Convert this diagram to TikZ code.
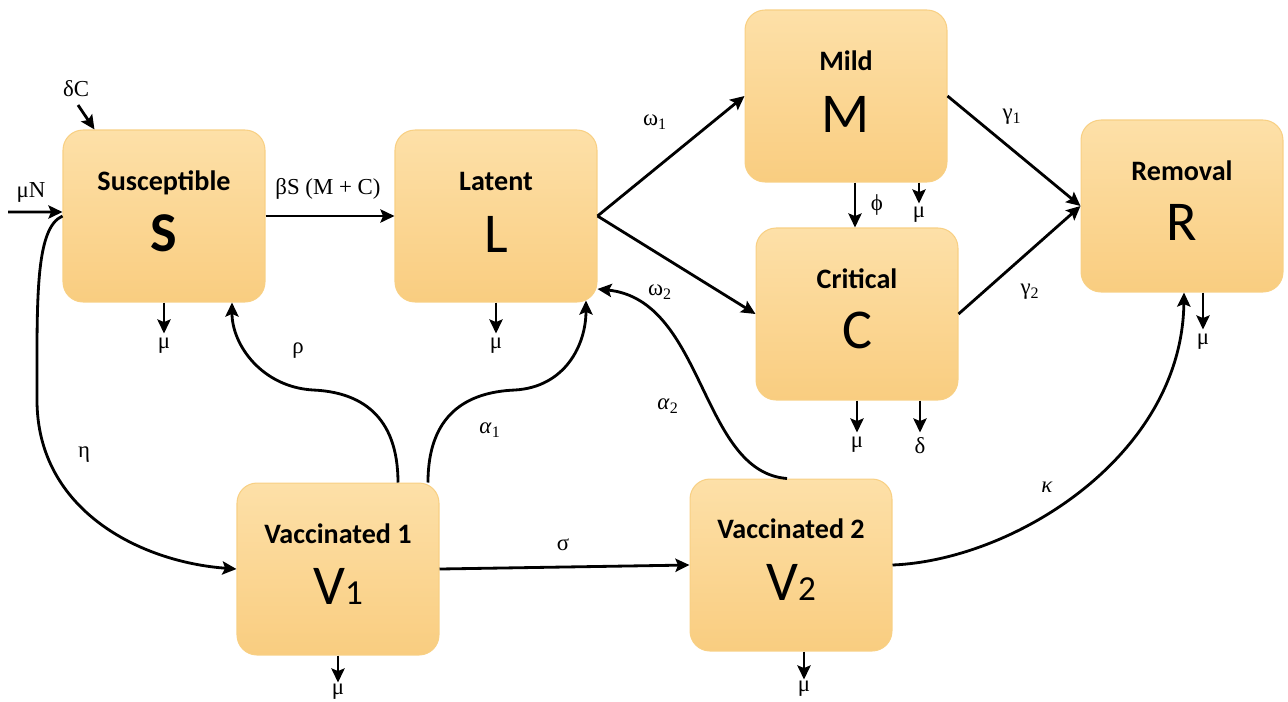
\documentclass[tikz,border=0pt]{standalone}
\usepackage{fontspec}
\setmainfont{Liberation Serif}
\newfontfamily\boxfont{Carlito}
\usetikzlibrary{arrows.meta,calc}
\definecolor{boxtop}{RGB}{253,224,168}
\definecolor{boxbot}{RGB}{249,205,128}
\definecolor{boxline}{RGB}{248,208,132}
\tikzset{
  comp/.style={rounded corners=0.4cm, top color=boxtop, bottom color=boxbot, draw=boxline, line width=0.6pt,
    minimum width=4.04cm, minimum height=3.44cm, inner sep=0pt},
  ttl/.style={anchor=base, font=\boxfont\bfseries\fontsize{16}{18}\selectfont},
  big/.style={anchor=base, font=\boxfont\fontsize{32}{36}\selectfont},
  arr/.style={-{Stealth[length=8pt,width=7.5pt,inset=1.5pt]}, line width=1.6pt},
  lab/.style={font=\fontsize{13}{15}\selectfont, inner sep=1pt},
}
\begin{document}
\begin{tikzpicture}[x=0.02cm,y=-0.02cm]
\useasboundingbox (0,0) rectangle (1288,701);
% compartments
\node[comp] (S) at (164,216) {};
\node[comp] (L) at (496,216) {};
\node[comp] (M) at (846,96) {};
\node[comp] (C) at (857,314) {};
\node[comp] (R) at (1182,206) {};
\node[comp] (V1) at (338,569) {};
\node[comp] (V2) at (791,565) {};
% texts
\node[ttl] (tS) at ($(S)+(0,-26)$) {Susceptible};
\node[big,font=\boxfont\bfseries\fontsize{32}{36}\selectfont] (bS) at ($(S)+(0,35)$) {S};
\node[ttl] (tL) at ($(L)+(0,-26)$) {Latent};
\node[big] (bL) at ($(L)+(0,36)$) {L};
\node[ttl] (tM) at ($(M)+(0,-26)$) {Mild};
\node[big] (bM) at ($(M)+(0,36)$) {M};
\node[ttl] (tC) at ($(C)+(0,-26)$) {Critical};
\node[big] (bC) at ($(C)+(0,34)$) {C};
\node[ttl] (tR) at ($(R)+(0,-26)$) {Removal};
\node[big] (bR) at ($(R)+(0,34)$) {R};
\node[ttl] (tV1) at ($(V1)+(0,-26)$) {Vaccinated 1};
\node[big] (bV1) at ($(V1)+(0,35)$) {V{\fontsize{20}{22}\selectfont 1}};
\node[ttl] (tV2) at ($(V2)+(0,-27)$) {Vaccinated 2};
\node[big] (bV2) at ($(V2)+(0,35)$) {V{\fontsize{20}{22}\selectfont 2}};

% inflow
\coordinate (inN) at (8,212);
\draw[arr] (inN) -- ([yshift=0.08cm]S.west);
\node[lab] (lmuN) at (31,192) {μN};
\coordinate (inC) at (78,105);
\draw[arr] (inC) -- ([xshift=0.64cm]S.north west);
\node[lab] (ldC) at (76,89) {δC};

% main flows
\draw[arr] (S.east) -- (L.west);
\node[lab] (lbeta) at (328,189) {βS (M + C)};
\draw[arr] (L.east) -- (M.west);
\node[lab] (lw1) at (655,122) {ω\textsubscript{1}};
\draw[arr] (L.east) -- (C.west);
\node[lab] (lw2) at (660,292) {ω\textsubscript{2}};
\draw[arr] ([xshift=0.18cm]M.south) -- ([xshift=0.18cm]M.south |- C.north);
\node[lab] (lphi) at (877,205) {ϕ};
\draw[arr] (M.east) -- (R.west);
\node[lab] (lg1) at (1012,117) {γ\textsubscript{1}};
\draw[arr] (C.east) -- (R.west);
\node[lab] (lg2) at (1030,292) {γ\textsubscript{2}};
\draw[arr] (V1.east) -- (V2.west);
\node[lab] (lsig) at (563,545) {σ};

% curves
\draw[arr] (S.west) .. controls (35,228) and (37,300) .. (37,400)
  .. controls (37,510) and (140,562) .. (V1.west);
\node[lab] (leta) at (84,455) {η};
\draw[arr] ([xshift=1.2cm]V1.north) .. controls (398,415) and (360,392) .. (313,390)
  .. controls (262,387) and (232,345) .. ([xshift=1.36cm]S.south);
\node[lab] (lrho) at (298,351) {ρ};
\draw[arr] ([xshift=1.8cm]V1.north) .. controls (428,415) and (466,392) .. (515,390)
  .. controls (565,387) and (586,345) .. ([xshift=1.8cm,yshift=0.04cm]L.south);
\node[lab] (la1) at (490,430) {\textit{α}\textsubscript{1}};
\draw[arr] ([xshift=-0.08cm]V2.north) .. controls (700,472) and (705,300) .. ([yshift=-1.46cm]L.east);
\node[lab] (la2) at (668,406) {\textit{α}\textsubscript{2}};
\draw[arr] (V2.east) .. controls (1015,560) and (1182,455) .. ([xshift=0.04cm]R.south);
\node[lab] (lkap) at (1047,487) {\textit{κ}};

% outflows
\draw[arr] (S.south) -- ++(0,31) node[lab,below=1pt] (mS) {μ};
\draw[arr] (L.south) -- ++(0,31) node[lab,below=1pt] (mL) {μ};
\draw[arr] ([xshift=1.46cm]M.south) -- ++(0,21) node[lab,below=0pt] (mM) {μ};
\draw[arr] (C.south) -- ++(0,32) node[lab,below=1pt] (mC) {μ};
\draw[arr] ([xshift=1.26cm]C.south) -- ++(0,32) node[lab,below=1pt] (dC) {δ};
\draw[arr] ([xshift=0.42cm]R.south) -- ++(0,37) node[lab,below=1pt] (mR) {μ};
\draw[arr] (V1.south) -- ++(0,27) node[lab,below=-1pt] (mV1) {μ};
\draw[arr] ([xshift=0.26cm]V2.south) -- ++(0,28) node[lab,below=-1pt] (mV2) {μ};
\end{tikzpicture}
\end{document}
